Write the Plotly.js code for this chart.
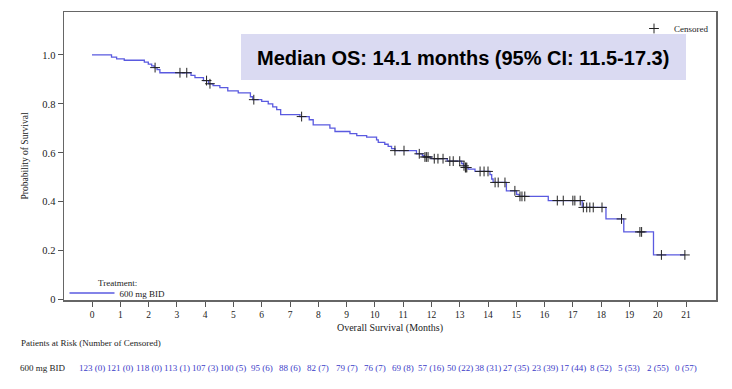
<!DOCTYPE html>
<html>
<head>
<meta charset="utf-8">
<script src="https://cdn.plot.ly/plotly-3.0.1.min.js"></script>
<style>
html,body{margin:0;padding:0;background:#fff;}
#chart{width:732px;height:389px;}
</style>
</head>
<body>
<div id="chart"></div>
<script>
// Kaplan-Meier step curve (time in months, survival probability after the step)
const stepTimes = [0, 0.69, 0.87, 1.14, 1.85, 1.99, 2.11, 2.20, 2.30, 2.40, 3.50, 3.64, 3.94, 4.12, 4.28, 4.52, 4.80, 5.17, 5.60, 5.68,
  6.00, 6.23, 6.39, 6.53, 6.67, 7.35, 7.68, 7.82, 8.41, 8.59, 9.12, 9.36, 9.71, 10.06, 10.12, 10.35, 10.47, 10.59, 10.71,
  11.47, 11.68, 11.75, 11.99, 12.56, 13.07, 13.13, 13.20, 13.30, 13.54, 14.07, 14.13, 14.18, 14.65, 15.01, 15.10,
  16.13, 17.33, 18.17, 18.80, 19.85, 20.96];
const survival = [1.0, 0.991, 0.984, 0.978, 0.970, 0.962, 0.955, 0.948, 0.940, 0.927, 0.916, 0.907, 0.895, 0.882, 0.874, 0.866, 0.853, 0.845, 0.829, 0.817,
  0.810, 0.800, 0.788, 0.776, 0.756, 0.748, 0.735, 0.714, 0.701, 0.687, 0.678, 0.670, 0.664, 0.653, 0.643, 0.635, 0.626, 0.617, 0.609,
  0.596, 0.588, 0.583, 0.576, 0.566, 0.556, 0.547, 0.540, 0.533, 0.524, 0.511, 0.493, 0.479, 0.445, 0.430, 0.422,
  0.405, 0.377, 0.330, 0.277, 0.183, 0.183];

// Censored observations
const censorTimes = [2.23, 3.11, 3.35, 4.05, 4.17, 5.72, 7.41, 10.71, 11.03, 11.57, 11.77, 11.82, 11.88,
  12.10, 12.23, 12.41, 12.65, 12.77, 13.00, 13.15, 13.20, 13.22, 13.25, 13.72, 13.86, 14.00,
  14.25, 14.36, 14.60, 14.95, 15.13, 15.20, 15.30, 16.45, 16.66, 17.00, 17.07, 17.26,
  17.37, 17.49, 17.60, 17.72, 18.03, 18.72, 19.37, 19.43, 20.13, 20.96];
const censorSurv = [0.948, 0.927, 0.927, 0.895, 0.882, 0.817, 0.748, 0.609, 0.609, 0.596, 0.583, 0.583, 0.583,
  0.576, 0.576, 0.576, 0.566, 0.566, 0.566, 0.547, 0.540, 0.540, 0.540, 0.524, 0.524, 0.524,
  0.479, 0.479, 0.479, 0.445, 0.422, 0.422, 0.422, 0.405, 0.405, 0.405, 0.405, 0.405,
  0.377, 0.377, 0.377, 0.377, 0.377, 0.330, 0.277, 0.277, 0.183, 0.183];

// Number at risk table
const riskMonths = [0,1,2,3,4,5,6,7,8,9,10,11,12,13,14,15,16,17,18,19,20,21];
const atRisk = [123,121,118,113,107,100,95,88,82,79,76,69,57,50,38,27,23,17,8,5,2,0];
const nCensored = [0,0,0,1,3,5,6,6,7,7,7,8,16,22,31,35,39,44,52,53,55,57];

const yTickVals = [0, 0.2, 0.4, 0.6, 0.8, 1.0];
const yTickText = ['0', '0.2', '0.4', '0.6', '0.8', '1.0'];

const serif = 'Liberation Serif, Times New Roman, serif';
const curveColor = '#5a5ae0';
const riskColor = '#3c3cc8';

const traces = [
  {
    x: stepTimes, y: survival, type: 'scatter', mode: 'lines',
    line: {shape: 'hv', color: curveColor, width: 1.3},
    name: '600 mg BID', legend: 'legend', hoverinfo: 'skip'
  },
  {
    x: censorTimes, y: censorSurv, type: 'scatter', mode: 'markers',
    marker: {symbol: 'cross-thin', size: 7, line: {width: 1, color: '#222'}, color: '#222'},
    name: 'Censored', legend: 'legend2', hoverinfo: 'skip'
  }
];

const annotations = [
  {
    text: '<b>Median OS: 14.1 months (95% CI: 11.5-17.3)</b>',
    xref: 'paper', yref: 'paper', x: (463 - 64) / 652, y: (300 - 58) / 288,
    xanchor: 'center', yanchor: 'middle', showarrow: false,
    font: {family: 'Liberation Sans, Arial, sans-serif', size: 20, color: '#000'}
  },
  {
    text: 'Treatment:', xref: 'paper', yref: 'paper', x: (96 - 64) / 652, y: (300 - 283) / 288,
    xanchor: 'left', yanchor: 'middle', showarrow: false,
    font: {family: serif, size: 9, color: '#222'}
  },
  {
    text: 'Patients at Risk (Number of Censored)', xref: 'paper', yref: 'paper',
    x: (19 - 64) / 652, y: (300 - 343) / 288, xanchor: 'left', yanchor: 'middle', showarrow: false,
    font: {family: serif, size: 9, color: '#222'}
  },
  {
    text: '600 mg BID', xref: 'paper', yref: 'paper',
    x: (18 - 64) / 652, y: (300 - 368) / 288, xanchor: 'left', yanchor: 'middle', showarrow: false,
    font: {family: serif, size: 9, color: '#222'}
  }
];
riskMonths.forEach((m, i) => {
  annotations.push({
    text: atRisk[i] + ' (' + nCensored[i] + ')', xref: 'x', yref: 'paper',
    x: m, y: (300 - 368) / 288, xanchor: 'center', yanchor: 'middle', showarrow: false,
    font: {family: serif, size: 9, color: riskColor}
  });
});

const layout = {
  width: 732, height: 389,
  margin: {l: 64, r: 16, t: 12, b: 89, pad: 0},
  paper_bgcolor: '#fff', plot_bgcolor: '#fff',
  showlegend: true,
  xaxis: {
    range: [-0.99, 22.06], tickmode: 'array', tickvals: riskMonths, ticktext: riskMonths.map(String),
    ticks: 'outside', ticklen: 5, tickwidth: 1, tickcolor: '#555',
    showline: true, linecolor: '#666', linewidth: 1.5, mirror: true, showgrid: false, zeroline: false,
    tickfont: {family: serif, size: 9.5, color: '#222'},
    title: {text: 'Overall Survival (Months)', font: {family: serif, size: 10, color: '#222'}, standoff: 5}
  },
  yaxis: {
    range: [-0.001, 1.175], tickmode: 'array', tickvals: yTickVals, ticktext: yTickText,
    ticks: 'outside', ticklen: 5, tickwidth: 1, tickcolor: '#555',
    showline: true, linecolor: '#666', linewidth: 1.5, mirror: true, showgrid: false, zeroline: false,
    tickfont: {family: serif, size: 10.5, color: '#222'},
    title: {text: 'Probability of Survival', font: {family: serif, size: 9.5, color: '#222'}, standoff: 12}
  },
  legend: {
    x: (64.5 - 64) / 652, y: (300 - 293) / 288, xanchor: 'left', yanchor: 'middle',
    bgcolor: 'rgba(0,0,0,0)', borderwidth: 0, itemwidth: 45,
    font: {family: serif, size: 9, color: '#222'}
  },
  legend2: {
    x: (714 - 64) / 652, y: (300 - 14) / 288, xanchor: 'right', yanchor: 'top',
    bgcolor: 'rgba(0,0,0,0)', borderwidth: 0,
    font: {family: serif, size: 9, color: '#222'}
  },
  shapes: [
    {
      type: 'rect', xref: 'paper', yref: 'paper', layer: 'below',
      x0: (241 - 64) / 652, x1: (686 - 64) / 652, y0: (300 - 80) / 288, y1: (300 - 34) / 288,
      fillcolor: '#dadaf2', line: {width: 0}
    }
  ],
  annotations: annotations
};

Plotly.newPlot('chart', traces, layout, {displayModeBar: false, staticPlot: true});
</script>
</body>
</html>
